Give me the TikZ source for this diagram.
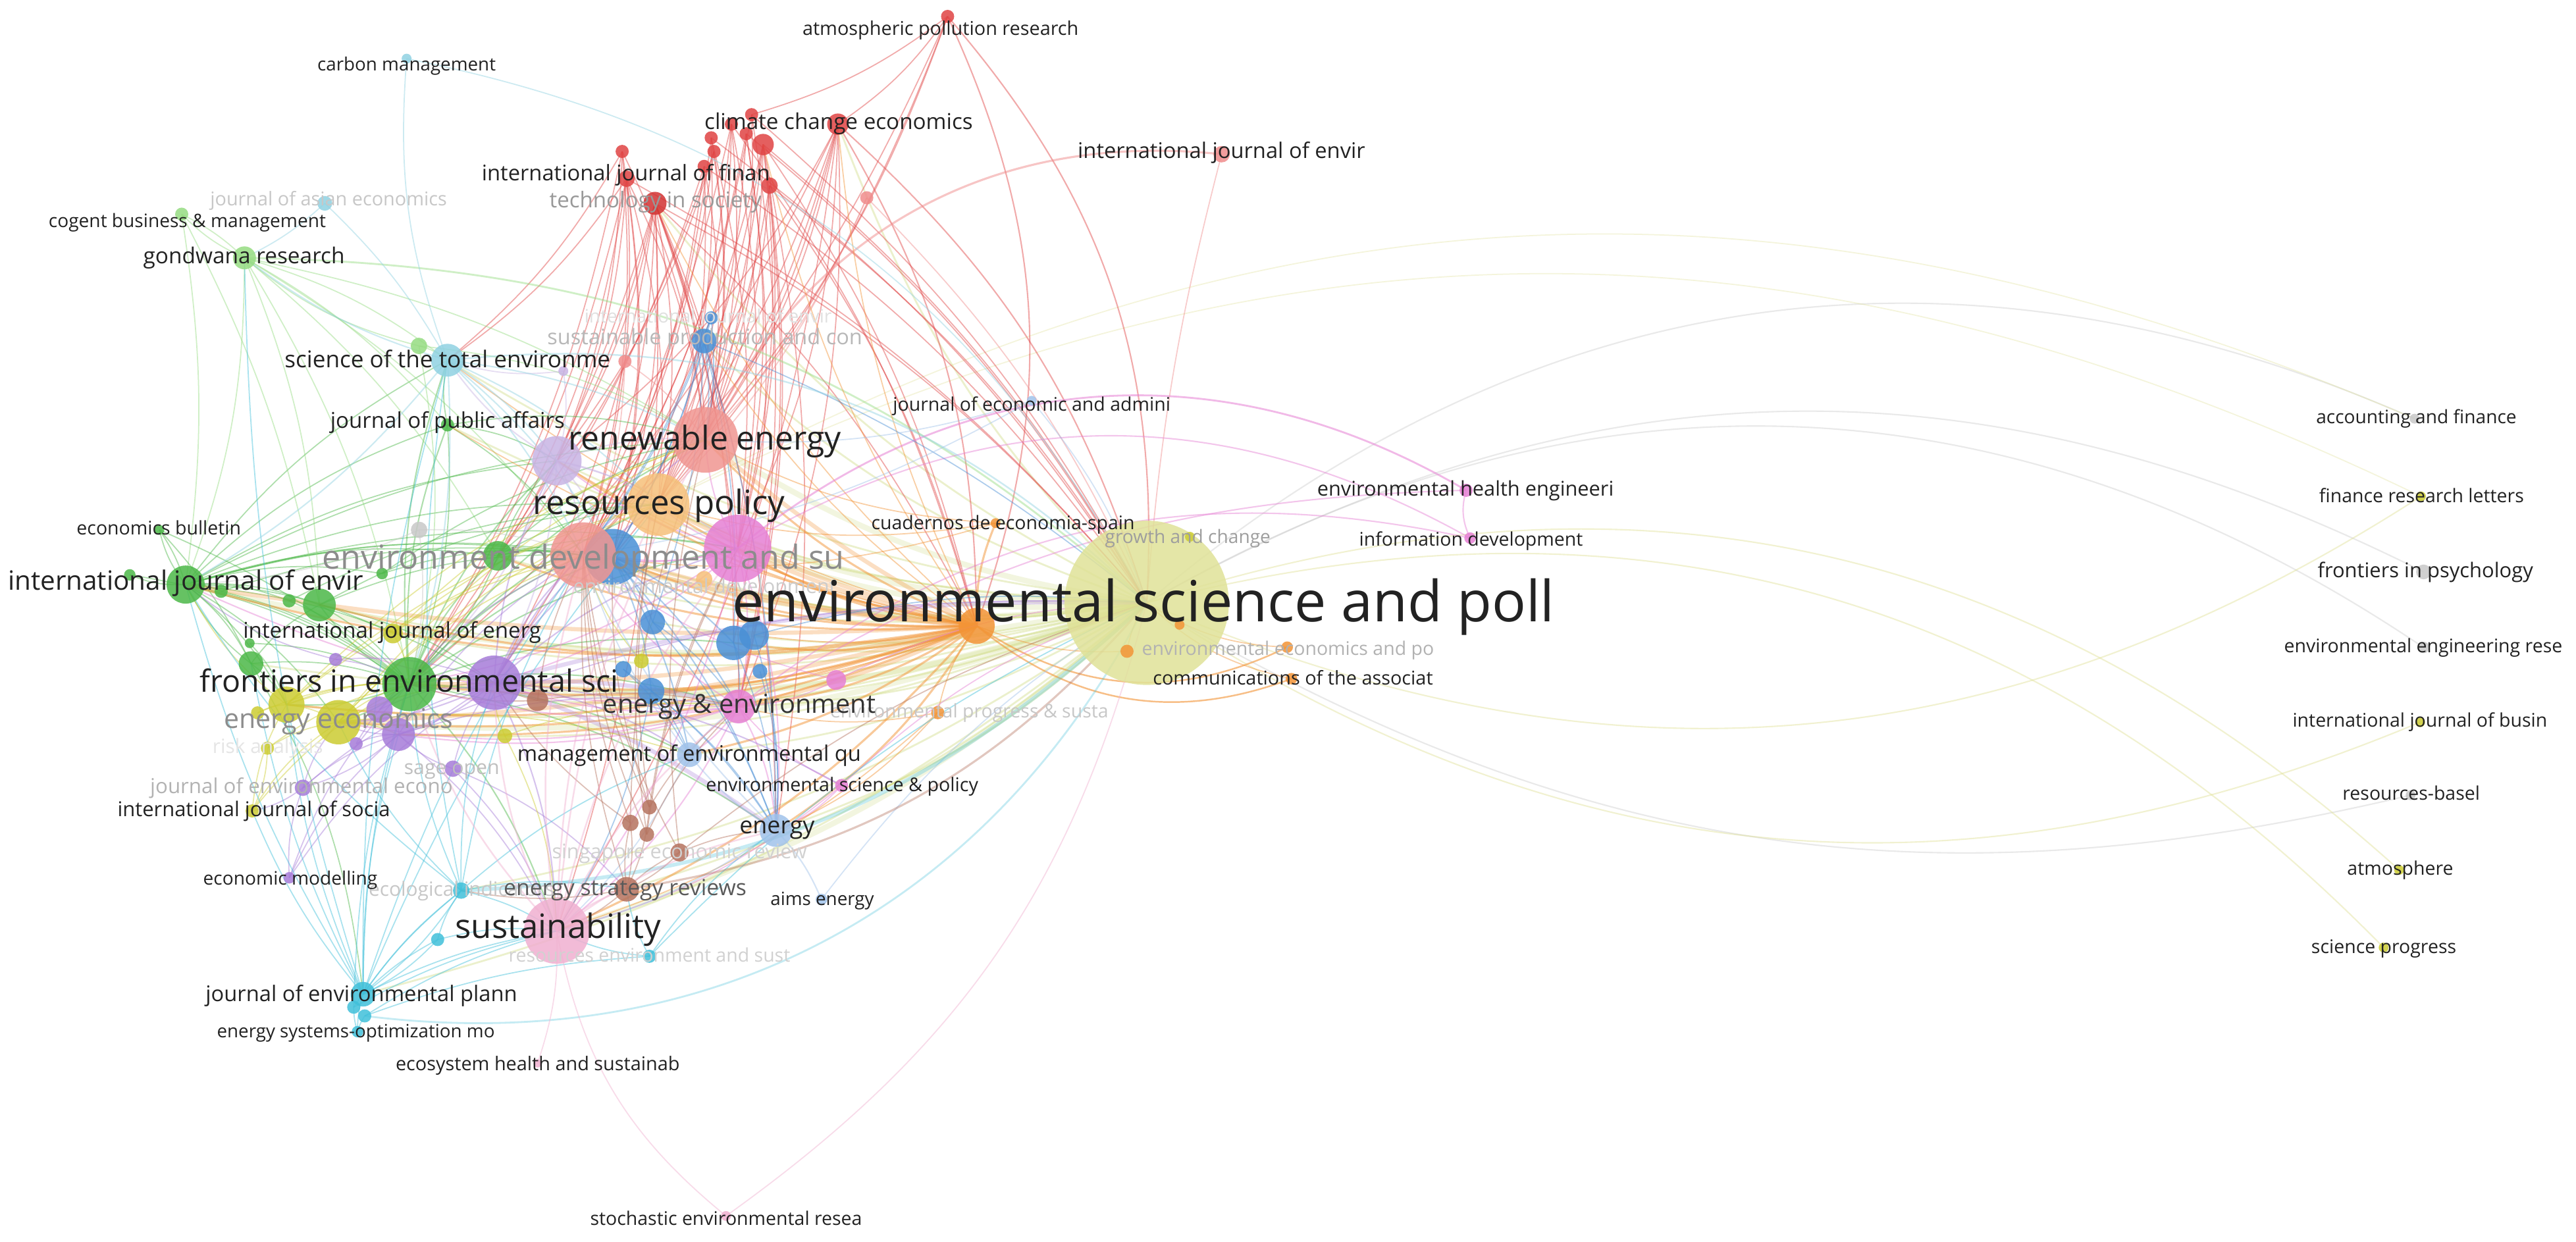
\documentclass[tikz,border=0pt]{standalone}
\usepackage{fontspec}
\setmainfont{Open Sans}
\definecolor{cRed}{RGB}{224,68,68}
\definecolor{cDRed}{RGB}{210,50,50}
\definecolor{cLRed}{RGB}{240,140,140}
\definecolor{cSalmon}{RGB}{240,150,145}
\definecolor{cGreen}{RGB}{76,184,72}
\definecolor{cLGreen}{RGB}{150,220,130}
\definecolor{cBlue}{RGB}{74,144,214}
\definecolor{cLBlue}{RGB}{160,194,234}
\definecolor{cCyan}{RGB}{64,192,218}
\definecolor{cLCyan}{RGB}{144,210,226}
\definecolor{cYellow}{RGB}{204,204,50}
\definecolor{cLYellow}{RGB}{224,226,152}
\definecolor{cEYellow}{RGB}{200,214,110}
\definecolor{cPurple}{RGB}{166,124,217}
\definecolor{cLav}{RGB}{200,180,228}
\definecolor{cOrange}{RGB}{243,148,54}
\definecolor{cLOrange}{RGB}{246,192,122}
\definecolor{cBrown}{RGB}{181,115,95}
\definecolor{cMag}{RGB}{230,128,212}
\definecolor{cPink}{RGB}{240,176,208}
\definecolor{cGray}{RGB}{200,200,200}
\definecolor{txt}{RGB}{34,34,34}
\tikzset{lab/.style={anchor=base, inner sep=0pt, outer sep=0pt}}
\newcommand\lbl[6]{\node[lab, text=#5, font=\fontsize{#4}{#4}\selectfont, yshift={-0.27*#4pt}] (#1) at (#2,#3) {#6};}
\newcommand\E[6][0.45]{\foreach \tg in {#3}{\draw[line width=#6, draw=#4, draw opacity=#1] (#2) to[bend left=#5] (\tg);}}
\begin{document}
\begin{tikzpicture}[x=0.024955cm, y=-0.024955cm]
\fill[white] (0,0) rectangle (1568,756);
\useasboundingbox (0,0) rectangle (1568,756);
% ---------- node centres ----------
\foreach \n/\x/\y in {apr/576.8/10, cce/510/75.6, r1/378.7/92.2, r2/432.9/83.9, r3/445.2/75.6, r4/457.5/69.8, r5/454.2/81.4, r6/434.6/92.2, r7/464.5/88, r8/428.6/101.3, r9/468.4/113, ijf/381.4/108.8, tis/398.7/123.8, lrA/527.6/120.4, ijeT/743.6/93.9, lrB/380.4/220, ren/429.3/267.8, edsu/355/338, cm/247.5/35.7, jae/197.7/123.8, cbm/110.6/130.4, gon/148.8/157, stoe/272.4/219.3, gA/255/210.6, lilA/342.9/225.9, bA/432.9/193.5, spc/428.6/207.6, jpa/272.4/258.7, lav/339/280.5, rp/400.7/307.2, eb/97/322.6, grA/255.1/322.6, gB/303/338.4, blu/373/339, mag/449/333.9, loA/428.6/352.6, ijeL/113/355.9, gC/79/350, gD/134.6/360, gE/176/365.8, gF/194.4/368.3, gG/232.6/349.2, gH/152.8/404, gI/152/391.6, ijen/239.2/385.7, fes/249.2/416.5, pur/300.7/415.6, brA/327.2/426.4, yA/174.4/429, pF/231/432, yB/206/439.7, yC/156.8/434, yD/162.8/455.5, yE/307.3/448, yF/390.4/402.4, pA/242.5/447.2, pB/204.3/401.5, pC/275.7/468, pD/184.4/479.6, pE/216.8/452.8, ijs/153.5/493.7, em/176.1/534.4, eco/280.7/542.2, esr/381.4/541.4, sus/338.9/566.8, cA/266.4/572, res/395.3/582.2, jep/221/605.3, cB/215.3/613.2, cC/222/618.5, eso/217.6/628.1, ehs/327.2/647.4, ser/441.9/740.3, bnA/395.3/491.4, bnB/383.7/501, bnC/393.7/508, bnD/413.6/519, aims/500/547.6, en/472.4/505.6, esp/512.3/478.2, meq/419.6/459.5, ee/449.5/430.1, mB/509/414, blA/397.3/378.7, blB/446.5/391.4, blC/459/386.7, blD/379.4/407.4, blE/396.4/420.7, blF/462.6/408.7, orn/594.5/381, oA/570.8/433.9, oB/686/396.5, oC/718/380.4, eep/783.5/394, cas/786.1/413.2, cua/606/318.5, gac/724.3/326.8, jea/628/244, ehe/892.4/298.5, inf/894.8/327.6, main/698/367, acc/1469.7/254.9, frl/1473.6/302.2, fip/1475.2/348.2, eer/1475.2/394.2, ijb/1473.1/439.7, rb/1467.3/484.1, atm/1460.3/529.6, sp/1450.9/576.9}
  {\coordinate (\n) at (\x,\y);}
% ---------- edges ----------
% main node
\E[0.22]{main}{ren,edsu,rp,mag,fes,ijeL,sus,pur,yB}{cEYellow}{12}{2.4pt}
\E[0.35]{main}{blu,lav,gF,yA,pA,ee,en,meq,stoe,jpa,tis,spc,eco,esr,jep,ijen,blB,blA,gB,loA,gH,brA,cce}{cEYellow}{12}{0.8pt}
\E[0.4]{main}{acc,eer}{cGray}{32}{0.6pt}
\E[0.4]{main}{fip}{cGray}{28}{0.6pt}
\E[0.4]{main}{rb}{cGray}{-22}{0.6pt}
\E[0.45]{main}{frl,ijb}{cLYellow}{-28}{0.6pt}
\E[0.45]{main}{atm,sp}{cLYellow}{30}{0.6pt}
\E[0.35]{rp}{acc,frl}{cLYellow}{26}{0.5pt}
% red
\E{apr}{cce,r4,ren,rp,edsu}{cRed}{10}{0.5pt}
\E{apr}{main,orn}{cRed}{22}{0.6pt}
\E{cce}{ren,rp,edsu,mag,blu,fes,sus,ee,lav}{cRed}{12}{0.5pt}
\E{cce}{main,orn}{cRed}{15}{0.6pt}
\E{r1}{ren,edsu,lav,blu,fes,stoe}{cRed}{10}{0.5pt}
\E{r2}{ren,rp,edsu,mag,main}{cRed}{10}{0.5pt}
\E{r3}{ren,rp,mag,blu,pur,orn}{cRed}{10}{0.5pt}
\E{r4}{ren,edsu,main,ee}{cRed}{10}{0.5pt}
\E{r5}{rp,mag,edsu,blB,main}{cRed}{10}{0.5pt}
\E{r6}{ren,edsu,fes,lav}{cRed}{10}{0.5pt}
\E{r7}{ren,rp,edsu,mag,main,orn,blu,ee,en}{cRed}{10}{0.5pt}
\E{r8}{ren,edsu,rp,gB,main}{cRed}{10}{0.5pt}
\E{r9}{ren,rp,mag,main,ee,orn}{cRed}{10}{0.5pt}
\E{ijf}{ren,edsu,lav,stoe,rp,fes,blu,gB,main}{cRed}{10}{0.5pt}
\E{tis}{ren,edsu,rp,mag,blu,lav,fes,pur,ee,blB,sus,en,gB,main,orn}{cRed}{10}{0.5pt}
\E{lrA}{ren,main,rp}{cLRed}{10}{0.5pt}
\E{ijeT}{main}{cLRed}{-5}{0.5pt}
\E[0.5]{ijeT}{ren}{cLRed}{-35}{0.9pt}
\E{lrB}{ren,edsu}{cLRed}{10}{0.5pt}
% green
\E{ijeL}{fes,gB,gF,gE,gD,gC,gG,gH,edsu,ren,rp,pur,yA,yB,mag,eb,jpa,stoe,ijen,blu,lav}{cGreen}{12}{0.5pt}
\E{fes}{edsu,ren,rp,mag,pur,yB,yA,blu,ee,en,sus,gB,gF,jpa,stoe,lav,meq,blB}{cGreen}{12}{0.6pt}
\E{gon}{ijeL,fes,gF,jpa,stoe,gB,ren,edsu,cbm}{cLGreen}{10}{0.5pt}
\E{gon}{main}{cLGreen}{20}{0.8pt}
\E{cbm}{gon,ijeL,gF}{cLGreen}{8}{0.5pt}
\E{eb}{ijeL,gH,fes}{cGreen}{8}{0.5pt}
\E{gB}{edsu,rp,ren,mag,lav,fes}{cGreen}{12}{0.5pt}
\E{gF}{edsu,rp,fes,pur}{cGreen}{12}{0.5pt}
\E{gH}{fes,yA,ijeL,gF,jep}{cGreen}{12}{0.5pt}
\E{jpa}{stoe,lav,ren,edsu,fes}{cGreen}{12}{0.5pt}
\E{gA}{stoe,ren,fes,gon}{cLGreen}{12}{0.5pt}
\E{gD}{fes,edsu}{cGreen}{12}{0.5pt}
\E{gE}{fes,rp}{cGreen}{12}{0.5pt}
\E{gC}{fes}{cGreen}{12}{0.5pt}
\E{gG}{edsu,ren}{cGreen}{12}{0.5pt}
\E{gI}{fes,yA}{cGreen}{12}{0.5pt}
% orange
\E[0.5]{orn}{ren,rp,edsu,mag,blu,fes,pur,yB,ijeL,ee,en,sus,gF,meq,lav,blB,gB,yA,pA,cua}{cOrange}{12}{0.9pt}
\E[0.3]{orn}{ren,rp,edsu,mag,blu,fes,ijeL,ee,yB}{cOrange}{6}{1.8pt}
\E[0.45]{orn}{tis,cce,r7,spc,lav,stoe,jpa,blC,blE}{cOrange}{10}{0.5pt}
\E[0.6]{orn}{cas,eep}{cOrange}{-30}{0.7pt}
\E{cas}{main}{cOrange}{15}{0.5pt}
\E{eep}{main}{cOrange}{15}{0.5pt}
\E{oA}{ee,en,sus,orn}{cOrange}{12}{0.5pt}
\E{cua}{rp,edsu,ren}{cOrange}{12}{0.5pt}
\E{oB}{main,orn}{cOrange}{12}{0.5pt}
\E{oC}{main}{cOrange}{12}{0.5pt}
% magenta
\E[0.55]{ehe}{mag}{cMag}{-35}{0.8pt}
\E{ehe}{inf}{cMag}{-20}{0.6pt}
\E{ehe}{ee}{cMag}{-15}{0.6pt}
\E{inf}{ee}{cMag}{-25}{0.6pt}
\E{inf}{mag}{cMag}{-30}{0.6pt}
\E{mag}{edsu,ren,rp,blu,fes,pur,ee,sus,en,lav}{cMag}{12}{0.6pt}
\E{ee}{edsu,fes,pur,sus,en,meq,yB,ijeL,pA}{cMag}{12}{0.6pt}
\E{mB}{main,edsu,ee}{cMag}{12}{0.5pt}
\E{esp}{ee,sus,en,main}{cMag}{12}{0.5pt}
% purple
\E{pur}{edsu,ren,rp,mag,meq,sus,yB,blu,fes,pA,lav,esp}{cPurple}{12}{0.6pt}
\E[0.3]{pur}{ee,main,en}{cPurple}{8}{1.8pt}
\E{pA}{fes,edsu,yB,main,sus,ee,pD}{cPurple}{12}{0.5pt}
\E{pB}{fes,pur,ijeL}{cPurple}{12}{0.5pt}
\E{pC}{pur,sus,pA,esr}{cPurple}{12}{0.5pt}
\E{pD}{pur,pA,yB,ijs}{cPurple}{12}{0.5pt}
\E{pE}{pA,fes}{cPurple}{12}{0.5pt}
\E{pF}{pur,edsu}{cPurple}{12}{0.5pt}
\E{em}{pA,pur,fes,pD}{cPurple}{12}{0.5pt}
% lavender
\E{lav}{ren,rp,edsu,mag,fes,pur,blu,stoe}{cLav}{12}{0.6pt}
\E{lilA}{stoe,lav}{cLav}{12}{0.5pt}
% yellow
\E{yA}{fes,edsu,rp,ren,pur,yB,ijeL}{cYellow}{12}{0.5pt}
\E{yB}{fes,edsu,rp,ren,pur,pA,meq}{cYellow}{12}{0.5pt}
\E{ijen}{fes,edsu,ren,rp}{cYellow}{12}{0.5pt}
\E{ijs}{yB,yA,fes}{cYellow}{12}{0.5pt}
\E{yC}{yA,fes}{cYellow}{12}{0.5pt}
\E{yD}{yB,fes,ijs}{cYellow}{12}{0.5pt}
\E{yE}{pur,ee,sus}{cYellow}{12}{0.5pt}
\E{yF}{blA,edsu}{cYellow}{12}{0.5pt}
% blue
\E{spc}{blu,blB,ren,en,edsu,blA,main,bA}{cBlue}{8}{0.5pt}
\E{bA}{edsu,blu,ren}{cBlue}{8}{0.5pt}
\E{blu}{en,blB,blA,meq,ee,blE}{cBlue}{10}{0.6pt}
\E{blA}{en,ee}{cBlue}{10}{0.5pt}
\E{blB}{en,ee}{cBlue}{10}{0.5pt}
\E{blC}{en,main}{cBlue}{10}{0.5pt}
\E{blD}{en,meq}{cBlue}{10}{0.5pt}
\E{blE}{en,meq,sus}{cBlue}{10}{0.5pt}
\E{blF}{en}{cBlue}{10}{0.5pt}
\E{en}{aims,meq,sus,edsu}{cLBlue}{10}{0.6pt}
\E{aims}{main}{cLBlue}{10}{0.5pt}
\E{meq}{edsu,sus,ee}{cLBlue}{10}{0.5pt}
% cyan
\E{jep}{stoe,fes,ijeL,yA,gH,eco,sus,edsu,rp,pA,ijs,cA,gon}{cCyan}{8}{0.5pt}
\E[0.3]{cC}{main}{cCyan}{-35}{0.8pt}
\E{cB}{sus,eco,fes}{cCyan}{8}{0.5pt}
\E{cC}{sus,res}{cCyan}{8}{0.5pt}
\E{eso}{jep,cB,cC}{cCyan}{8}{0.5pt}
\E{eco}{fes,pur,sus,esr,yB,ijeL,edsu,stoe,meq,jep}{cCyan}{10}{0.5pt}
\E[0.3]{eco}{main}{cCyan}{-20}{1.6pt}
\E{cA}{eco,sus,jep}{cCyan}{10}{0.5pt}
\E{res}{sus,esr,en,main}{cCyan}{10}{0.5pt}
\E{stoe}{edsu,ren,rp,fes,ijeL,gon,blu,lav}{cLCyan}{10}{0.6pt}
\E{stoe}{main}{cLCyan}{25}{0.7pt}
\E{cm}{stoe}{cLCyan}{-12}{0.5pt}
\E{cm}{main}{cLCyan}{25}{0.5pt}
\E{jae}{stoe,gon}{cLCyan}{8}{0.5pt}
\E{jea}{main,edsu,ren}{cLBlue}{10}{0.5pt}
% brown
\E{bnA}{edsu,mag,ee,esr,rp,blu}{cBrown}{10}{0.5pt}
\E{bnB}{edsu,ren,pur,esr}{cBrown}{10}{0.5pt}
\E{bnC}{mag,ee,rp,edsu}{cBrown}{10}{0.5pt}
\E{bnD}{edsu,main,ren,esr,en}{cBrown}{10}{0.5pt}
\E{esr}{sus,bnD,bnB,edsu,eco}{cBrown}{10}{0.5pt}
\E[0.4]{esr}{main}{cBrown}{-20}{0.9pt}
\E{brA}{pur,fes,edsu,ee}{cBrown}{10}{0.5pt}
% pink
\E{sus}{edsu,ren,rp,mag,ee,en,fes,pur,esr}{cPink}{12}{0.7pt}
\E{sus}{ehs}{cPink}{10}{0.5pt}
\E{sus}{ser}{cPink}{-20}{0.5pt}
\E{ser}{main}{cPink}{-20}{0.5pt}
% gray
\E{grA}{edsu,ijeL,fes}{cGray}{10}{0.5pt}
% ---------- nodes ----------
\foreach \n/\r/\c in {main/50/cLYellow, blu/17/cBlue, edsu/20/cSalmon, ren/20/cSalmon, mag/20.5/cMag, sus/20/cPink, rp/19/cLOrange, fes/16.5/cGreen, pur/16.5/cPurple, lav/15/cLav, pF/8/cPurple, yB/13.5/cYellow, ijeL/11.6/cGreen, yA/11/cYellow, orn/11/cOrange, pA/10/cPurple, blB/10.5/cBlue, blC/9/cBlue, ee/10.3/cMag, en/10/cLBlue, gF/10/cGreen, stoe/10/cLCyan, gB/9/cGreen, blA/7.5/cBlue, blE/8/cBlue, meq/7.5/cLBlue, esr/7.5/cBrown, jep/7.5/cCyan, gH/7.5/cGreen, spc/7.5/cBlue, gon/7/cLGreen, tis/7/cDRed, r7/6.5/cRed, cce/6.5/cRed, brA/6.5/cBrown, ijen/6/cYellow, mB/6/cMag, bnD/5.5/cBrown, loA/5/cLOrange, ijf/5/cRed, r9/5/cRed, ijeT/5/cLRed, gA/5/cLGreen, grA/5/cGray, blD/5/cBlue, pC/5/cPurple, pD/5/cPurple, eco/5/cCyan, bnB/5/cBrown, jae/4.5/cLCyan, yE/4.5/cYellow, yF/4.5/cYellow, blF/4.5/cBlue, bnA/4.5/cBrown, bnC/4.5/cBrown, fip/4.5/cGray, apr/4/cRed, r1/4/cRed, r2/4/cRed, r3/4/cRed, r4/4/cRed, r5/4/cRed, r6/4/cRed, r8/4/cRed, lrA/4/cLRed, lrB/4/cLRed, cbm/4/cLGreen, bA/4/cBlue, jpa/4/cGreen, gD/4/cGreen, gE/4/cGreen, pB/4/cPurple, pE/4/cPurple, yC/4/cYellow, yD/4/cYellow, ijs/4/cYellow, cA/4/cCyan, res/4/cCyan, cB/4/cCyan, cC/4/cCyan, esp/4/cMag, oA/4/cOrange, oB/4/cOrange, ehe/4/cMag, gC/3.5/cGreen, gG/3.5/cGreen, em/3.5/cPurple, eso/3.5/cCyan, aims/3.5/cLBlue, eep/3.5/cOrange, cas/3.5/cOrange, inf/3.5/cMag, eer/3.5/cGray, cm/3/cLCyan, lilA/3/cLav, eb/3/cGreen, gI/3/cGreen, ser/3/cPink, oC/3/cOrange, cua/3/cOrange, gac/3/cYellow, jea/3/cLBlue, acc/3/cGray, frl/3/cYellow, ijb/3/cYellow, rb/3/cGray, atm/3/cYellow, sp/3/cYellow, ehs/2.5/cPink}
  {\fill[\c, fill opacity=0.85] (\n) circle[radius={\r*0.024955cm}];}
% ---------- labels (faded first) ----------
\lbl{t-b1}{431}{193.7}{8.0}{black!12}{international journal of envir}
\lbl{t-jae}{200}{122}{8.2}{black!22}{journal of asian economics}
\lbl{t-spc}{429}{206.4}{9.25}{black!28}{sustainable production and con}
\lbl{t-lo}{429}{358}{8.6}{black!20}{environmental development}
\lbl{t-risk}{163}{455.5}{8.5}{black!10}{risk analysis}
\lbl{t-sage}{275}{468}{8.6}{black!25}{sage open}
\lbl{t-jee}{183.5}{479.6}{8.9}{black!30}{journal of environmental econo}
\lbl{t-sing}{413.6}{519.5}{8.7}{black!18}{singapore economic review}
\lbl{t-eco}{281}{542.2}{8.5}{black!22}{ecological indicators}
\lbl{t-res}{395.3}{582.6}{8.1}{black!18}{resources environment and sust}
\lbl{t-eep}{784}{395.7}{8.1}{black!30}{environmental economics and po}
\lbl{t-prog}{590}{433.9}{8.1}{black!22}{environmental progress \& susta}
\lbl{t-gac}{723}{327.6}{8.0}{black!38}{growth and change}
\lbl{t-tis}{399}{123}{9.4}{black!40}{technology in society}
\lbl{t-edsu}{355}{341}{14.3}{black!45}{environment development and su}
\lbl{t-eec}{206}{439}{11.7}{black!45}{energy economics}
\lbl{t-esr}{380.5}{541.4}{9.6}{black!65}{energy strategy reviews}
% ---------- labels (dark) ----------
\lbl{t-apr}{572.5}{18.3}{8.2}{txt}{atmospheric pollution research}
\lbl{t-cm}{247.5}{40}{7.9}{txt}{carbon management}
\lbl{t-cce}{510.5}{75}{9.45}{txt}{climate change economics}
\lbl{t-ijeT}{743.5}{93}{9.3}{txt}{international journal of envir}
\lbl{t-ijf}{381}{106.3}{9.3}{txt}{international journal of finan}
\lbl{t-cbm}{114}{135.4}{8.0}{txt}{cogent business \& management}
\lbl{t-gon}{148.5}{157}{9.5}{txt}{gondwana research}
\lbl{t-stoe}{272.4}{220}{10.0}{txt}{science of the total environme}
\lbl{t-jea}{628}{247}{8.1}{txt}{journal of economic and admini}
\lbl{t-jpa}{272.4}{257}{9.4}{txt}{journal of public affairs}
\lbl{t-ren}{429}{268.6}{14.2}{txt}{renewable energy}
\lbl{t-ehe}{892}{298.5}{8.75}{txt}{environmental health engineeri}
\lbl{t-rp}{401}{307.7}{14.5}{txt}{resources policy}
\lbl{t-cua}{610.5}{319.3}{8.1}{txt}{cuadernos de economia-spain}
\lbl{t-eb}{96.7}{322.6}{8.1}{txt}{economics bulletin}
\lbl{t-inf}{895.4}{329.3}{8.1}{txt}{information development}
\lbl{t-ijeL}{113}{355}{11.5}{txt}{international journal of envir}
\lbl{t-ijen}{238.7}{385}{9.4}{txt}{international journal of energ}
\lbl{t-cas}{787}{414}{8.2}{txt}{communications of the associat}
\lbl{t-fes}{249}{416.5}{13.25}{txt}{frontiers in environmental sci}
\lbl{t-ee}{450}{430}{11.3}{black!80}{energy \& environment}
\lbl{t-meq}{419.5}{460}{9.3}{txt}{management of environmental qu}
\lbl{t-esp}{512.6}{478.8}{8.15}{txt}{environmental science \& policy}
\lbl{t-ijs}{154.5}{493.7}{8.8}{txt}{international journal of socia}
\lbl{t-en}{473}{503.5}{10.2}{txt}{energy}
\lbl{t-em}{176.7}{535.6}{8.0}{txt}{economic modelling}
\lbl{t-aims}{500.5}{548.3}{7.9}{txt}{aims energy}
\lbl{t-sus}{339.7}{565.9}{14.5}{txt}{sustainability}
\lbl{t-jep}{220}{606.2}{9.3}{txt}{journal of environmental plann}
\lbl{t-eso}{216.6}{628.7}{7.9}{txt}{energy systems-optimization mo}
\lbl{t-ehs}{327.3}{648.8}{8.2}{txt}{ecosystem health and sustainab}
\lbl{t-ser}{442}{743}{8.1}{txt}{stochastic environmental resea}
\lbl{t-acc}{1470.8}{254.9}{8.0}{txt}{accounting and finance}
\lbl{t-frl}{1474}{302.7}{8.1}{txt}{finance research letters}
\lbl{t-fip}{1476.3}{348.2}{8.8}{txt}{frontiers in psychology}
\lbl{t-eer}{1475}{394.2}{8.1}{txt}{environmental engineering rese}
\lbl{t-ijb}{1473}{439.7}{8.1}{txt}{international journal of busin}
\lbl{t-rb}{1467.7}{484.1}{8.1}{txt}{resources-basel}
\lbl{t-atm}{1461}{529.6}{8.1}{txt}{atmosphere}
\lbl{t-sp}{1451}{577.4}{8.1}{txt}{science progress}
\lbl{t-main}{696}{369}{24.5}{txt}{environmental science and poll}
\end{tikzpicture}
\end{document}
